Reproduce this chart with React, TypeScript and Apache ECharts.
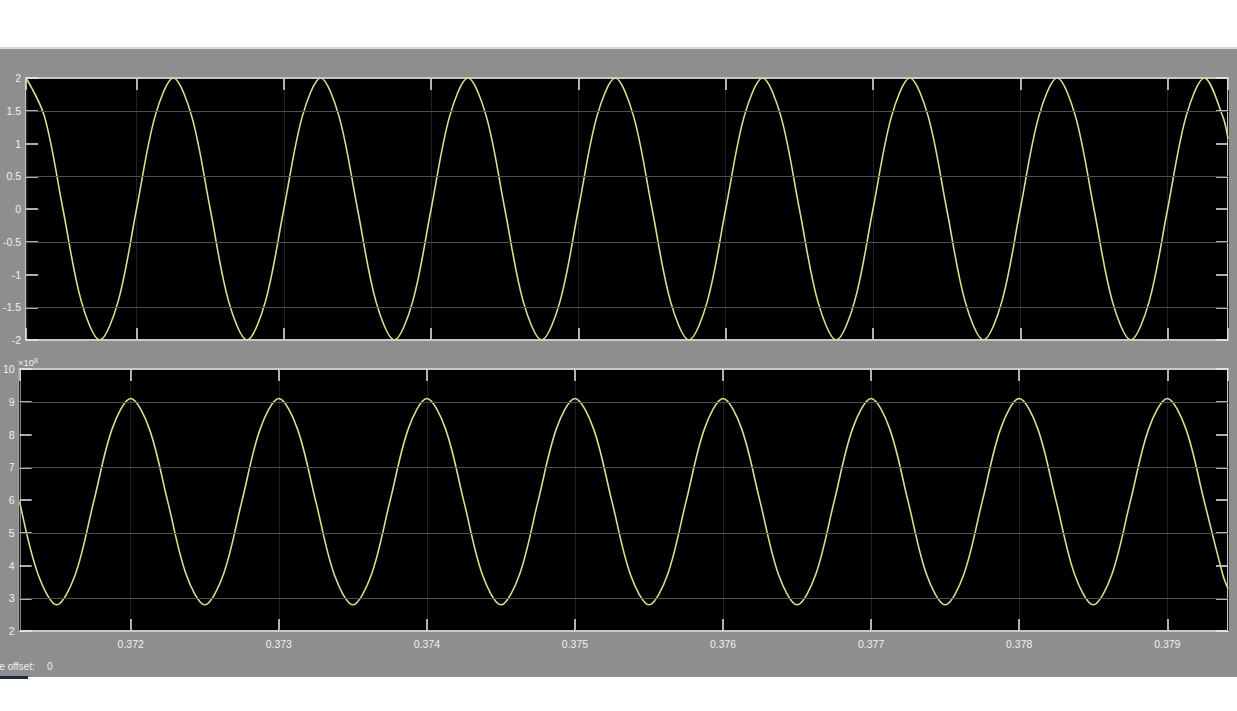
import React, { useEffect, useRef } from "react";
import * as echarts from "echarts";

// Sample times (s)
const times = [
  0.37125, 0.371375, 0.3715, 0.371625, 0.37175, 0.371875,
  0.372, 0.372125, 0.37225, 0.372375, 0.3725, 0.372625, 0.37275, 0.372875,
  0.373, 0.373125, 0.37325, 0.373375, 0.3735, 0.373625, 0.37375, 0.373875,
  0.374, 0.374125, 0.37425, 0.374375, 0.3745, 0.374625, 0.37475, 0.374875,
  0.375, 0.375125, 0.37525, 0.375375, 0.3755, 0.375625, 0.37575, 0.375875,
  0.376, 0.376125, 0.37625, 0.376375, 0.3765, 0.376625, 0.37675, 0.376875,
  0.377, 0.377125, 0.37725, 0.377375, 0.3775, 0.377625, 0.37775, 0.377875,
  0.378, 0.378125, 0.37825, 0.378375, 0.3785, 0.378625, 0.37875, 0.378875,
  0.379, 0.379125, 0.37925, 0.379375, 0.37941,
];

// Upper trace values (amplitude ±2)
const upperValues = [
  2, 1.41, 0, -1.41, -2, -1.41,
  0, 1.41, 2, 1.41, 0, -1.41, -2, -1.41,
  0, 1.41, 2, 1.41, 0, -1.41, -2, -1.41,
  0, 1.41, 2, 1.41, 0, -1.41, -2, -1.41,
  0, 1.41, 2, 1.41, 0, -1.41, -2, -1.41,
  0, 1.41, 2, 1.41, 0, -1.41, -2, -1.41,
  0, 1.41, 2, 1.41, 0, -1.41, -2, -1.41,
  0, 1.41, 2, 1.41, 0, -1.41, -2, -1.41,
  0, 1.41, 2, 1.41, 1.07,
];

// Lower trace values (×10^8)
const lowerValues = [
  5.95, 3.72, 2.8, 3.72, 5.95, 8.18,
  9.1, 8.18, 5.95, 3.72, 2.8, 3.72, 5.95, 8.18,
  9.1, 8.18, 5.95, 3.72, 2.8, 3.72, 5.95, 8.18,
  9.1, 8.18, 5.95, 3.72, 2.8, 3.72, 5.95, 8.18,
  9.1, 8.18, 5.95, 3.72, 2.8, 3.72, 5.95, 8.18,
  9.1, 8.18, 5.95, 3.72, 2.8, 3.72, 5.95, 8.18,
  9.1, 8.18, 5.95, 3.72, 2.8, 3.72, 5.95, 8.18,
  9.1, 8.18, 5.95, 3.72, 2.8, 3.72, 5.95, 8.18,
  9.1, 8.18, 5.95, 3.72, 3.29,
];

// Visible horizontal grid lines
const upperGridLines = [1.5, 0.5, -0.5, -1.5];
const lowerGridLines = [9, 7, 5, 3];

const X_MIN = 0.37125;
const X_MAX = 0.37941;

const LABEL_COLOR = "#f0f0f0";
const TRACE_COLOR = "#dcdb8e";
const FONT = "Liberation Sans";

export default function App() {
  const ref = useRef<HTMLDivElement>(null);

  useEffect(() => {
    if (!ref.current) return;
    const chart = echarts.init(ref.current, undefined, { renderer: "svg" });

    const tick = { show: true, inside: true, length: 12, lineStyle: { color: "#e8e8e8", width: 1.5 } };

    const xBase = (gridIndex: number, position: string, showLabels: boolean, showSplit: boolean) => ({
      type: "value",
      gridIndex,
      position,
      min: X_MIN,
      max: X_MAX,
      splitNumber: 8,
      axisLine: { show: false, onZero: false },
      axisTick: tick,
      axisLabel: {
        show: showLabels,
        showMinLabel: false,
        showMaxLabel: false,
        color: LABEL_COLOR,
        fontSize: 10.5,
        fontFamily: FONT,
        margin: 7,
        formatter: (v: number) => v.toFixed(3),
      },
      splitLine: { show: showSplit, lineStyle: { color: "#222222", width: 1 } },
    });

    const yBase = (gridIndex: number, position: string, min: number, max: number, interval: number, showLabels: boolean) => ({
      type: "value",
      gridIndex,
      position,
      min,
      max,
      interval,
      axisLine: { show: false, onZero: false },
      axisTick: tick,
      axisLabel: {
        show: showLabels,
        color: LABEL_COLOR,
        fontSize: 10.5,
        fontFamily: FONT,
        margin: 5,
      },
      splitLine: { show: false },
    });

    const markLine = (vals: number[]) => ({
      silent: true,
      symbol: "none",
      label: { show: false },
      lineStyle: { color: "#505050", type: "solid", width: 1 },
      data: vals.map((v) => ({ yAxis: v })),
    });

    chart.setOption({
      animation: false,
      backgroundColor: "transparent",
      grid: [
        { left: 17, right: 9, top: 78, height: 262, show: true, backgroundColor: "#000", borderColor: "#c8c8c8", borderWidth: 2 },
        { left: 17, right: 9, top: 369, height: 262, show: true, backgroundColor: "#000", borderColor: "#c8c8c8", borderWidth: 2 },
      ],
      xAxis: [
        xBase(0, "bottom", false, true),
        xBase(0, "top", false, false),
        xBase(1, "bottom", true, true),
        xBase(1, "top", false, false),
      ],
      yAxis: [
        yBase(0, "left", -2, 2, 0.5, true),
        yBase(0, "right", -2, 2, 0.5, false),
        yBase(1, "left", 2, 10, 1, true),
        yBase(1, "right", 2, 10, 1, false),
      ],
      series: [
        {
          type: "line",
          xAxisIndex: 0,
          yAxisIndex: 0,
          data: times.map((t, i) => [t, upperValues[i]]),
          smooth: 0.33,
          showSymbol: false,
          lineStyle: { color: TRACE_COLOR, width: 1.6 },
          markLine: markLine(upperGridLines),
        },
        {
          type: "line",
          xAxisIndex: 2,
          yAxisIndex: 2,
          data: times.map((t, i) => [t, lowerValues[i]]),
          smooth: 0.33,
          showSymbol: false,
          lineStyle: { color: TRACE_COLOR, width: 1.6 },
          markLine: markLine(lowerGridLines),
        },
      ],
      graphic: [
        {
          type: "text",
          left: 18,
          top: 357,
          style: {
            text: "{a|×10}{b|8}",
            fill: LABEL_COLOR,
            fontFamily: FONT,
            rich: {
              a: { fontSize: 9.5, fill: LABEL_COLOR, fontFamily: FONT, verticalAlign: "bottom" },
              b: { fontSize: 7, fill: LABEL_COLOR, fontFamily: FONT, verticalAlign: "top" },
            },
          },
        },
        {
          type: "text",
          left: -17,
          top: 661,
          style: { text: "Time offset:", fill: LABEL_COLOR, fontSize: 10, fontFamily: FONT },
        },
        {
          type: "text",
          left: 47,
          top: 661,
          style: { text: "0", fill: LABEL_COLOR, fontSize: 10, fontFamily: FONT },
        },
        {
          type: "rect",
          shape: { x: 0, y: 676, width: 28, height: 3 },
          style: { fill: "#1c2a3e" },
        },
      ],
    });

    return () => chart.dispose();
  }, []);

  return (
    <div
      ref={ref}
      style={{
        position: "fixed",
        left: 0,
        top: 0,
        width: 1237,
        height: 711,
        background:
          "linear-gradient(to bottom, #ffffff 0px, #ffffff 47px, #d8d8d8 47px, #d8d8d8 49px, #8e8e8e 49px, #8e8e8e 677px, #ffffff 677px, #ffffff 711px)",
      }}
    />
  );
}
